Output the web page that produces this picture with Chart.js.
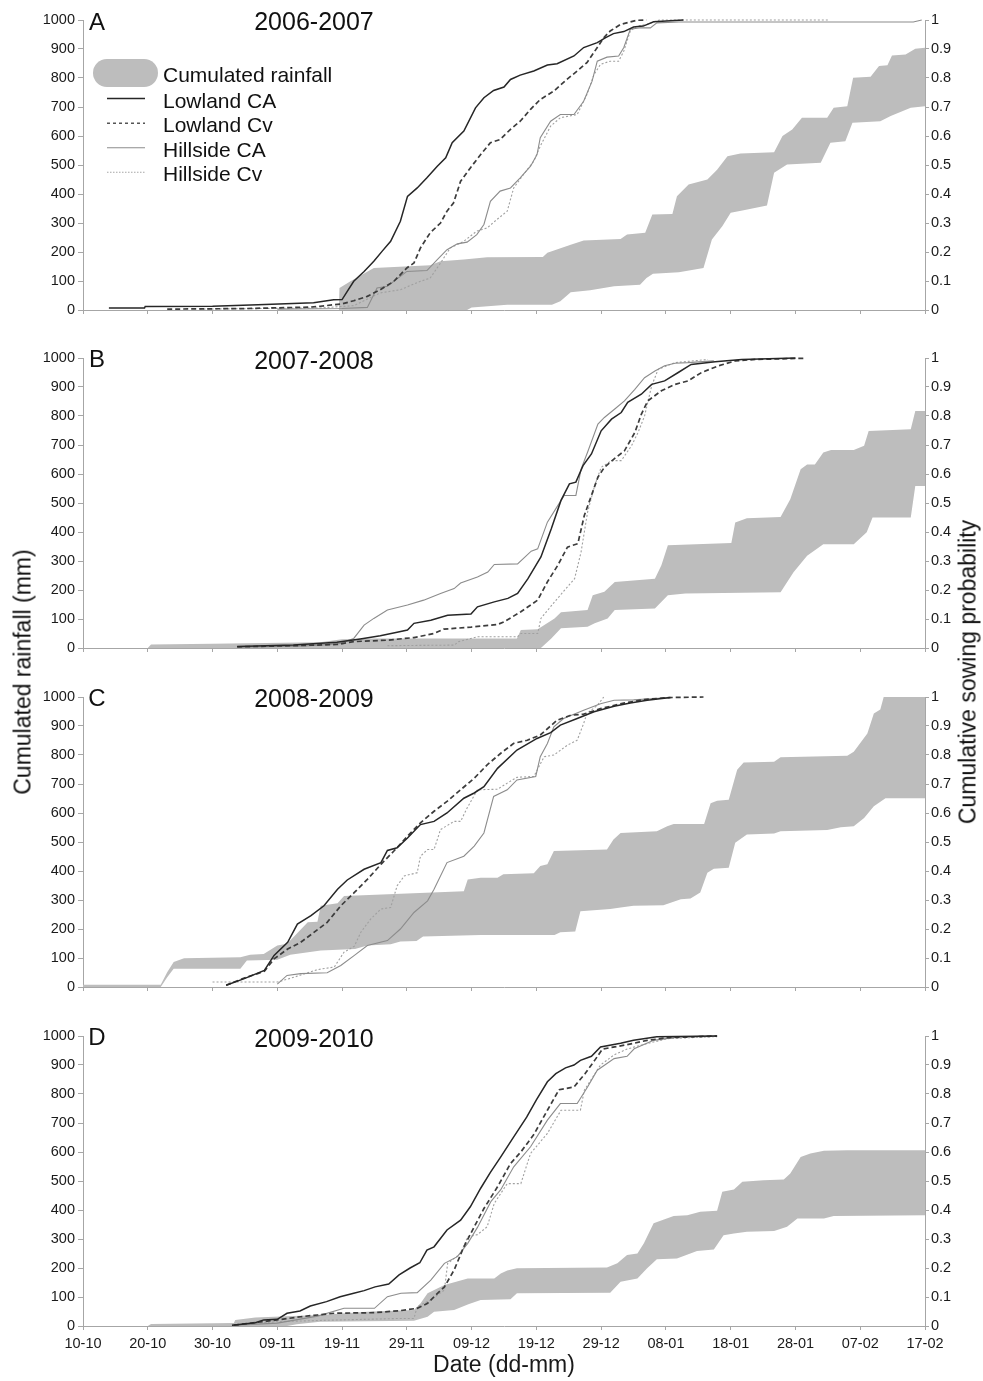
<!DOCTYPE html>
<html>
<head>
<meta charset="utf-8">
<script src="https://cdn.jsdelivr.net/npm/chart.js@4.4.1/dist/chart.umd.min.js"></script>
<style>
  body { margin: 0; background: #fff; }
  #wrap { position: relative; width: 983px; height: 1381px; overflow: hidden;
          font-family: 'Liberation Sans', Arial, sans-serif; color: #111; }
  canvas { position: absolute; left: 0; }
  .c { position: absolute; transform: translate(-50%, -50%); line-height: 1; white-space: nowrap; }
  .lg { position: absolute; left: 163px; transform: translateY(-50%); line-height: 1; font-size: 21px; white-space: nowrap; }
  .rot { position: absolute; transform: translate(-50%, -50%) rotate(-90deg); line-height: 1; font-size: 23px; white-space: nowrap; }
</style>
</head>
<body>
<div id="wrap">
  <canvas id="cA" width="983" height="338" style="top:0px"></canvas>
  <canvas id="cB" width="983" height="338" style="top:338px"></canvas>
  <canvas id="cC" width="983" height="338" style="top:677px"></canvas>
  <canvas id="cD" width="983" height="365" style="top:1016px"></canvas>

  <div class="c" style="left:97px;top:21.5px;font-size:24px">A</div>
  <div class="c" style="left:314px;top:21px;font-size:25px">2006-2007</div>
  <div class="c" style="left:97px;top:359px;font-size:24px">B</div>
  <div class="c" style="left:314px;top:359.5px;font-size:25px">2007-2008</div>
  <div class="c" style="left:97px;top:697.5px;font-size:24px">C</div>
  <div class="c" style="left:314px;top:698px;font-size:25px">2008-2009</div>
  <div class="c" style="left:97px;top:1037px;font-size:24px">D</div>
  <div class="c" style="left:314px;top:1037.5px;font-size:25px">2009-2010</div>

  <div style="position:absolute;left:93px;top:59px;width:65px;height:28px;border-radius:14px;background:#bdbdbd"></div>
  <svg style="position:absolute;left:0;top:0" width="983" height="200">
    <line x1="107" x2="145" y1="98.5" y2="98.5" stroke="#262626" stroke-width="1.5"/>
    <line x1="107" x2="145" y1="123.3" y2="123.3" stroke="#555" stroke-width="1.6" stroke-dasharray="3,3"/>
    <line x1="107" x2="145" y1="147.7" y2="147.7" stroke="#8c8c8c" stroke-width="1.1"/>
    <line x1="107" x2="145" y1="172.3" y2="172.3" stroke="#a6a6a6" stroke-width="1.1" stroke-dasharray="1.5,1.5"/>
  </svg>
  <div class="lg" style="top:74.2px">Cumulated rainfall</div>
  <div class="lg" style="top:99.7px">Lowland CA</div>
  <div class="lg" style="top:123.7px">Lowland Cv</div>
  <div class="lg" style="top:148.8px">Hillside CA</div>
  <div class="lg" style="top:173.3px">Hillside Cv</div>

  <div class="rot" style="left:23px;top:672px">Cumulated rainfall (mm)</div>
  <div class="rot" style="left:967.5px;top:672px">Cumulative sowing probability</div>
</div>

<script>
// ---- tick labels (x: days since 10-10) ----
const xTickLabels = ['10-10','20-10','30-10','09-11','19-11','29-11','09-12','19-12','29-12','08-01','18-01','28-01','07-02','17-02'];

// ---- Panel A (2006-2007): [day, cumulative sowing probability] ----
const A_lowlandCA = [[4,0.007],[9.5,0.007],[9.6,0.012],[20,0.013],[27,0.018],[35.6,0.025],[38.7,0.035],[40,0.036],[40.8,0.064],[41.8,0.099],[43.4,0.133],[44.9,0.168],[46.2,0.203],[47.5,0.237],[49.0,0.306],[50.1,0.392],[51.6,0.421],[53.1,0.456],[54.7,0.496],[56.0,0.525],[57.0,0.577],[58.8,0.617],[60.6,0.697],[61.9,0.732],[63.4,0.757],[65.0,0.769],[66.0,0.795],[67.5,0.81],[69.6,0.824],[71.7,0.845],[73.2,0.849],[75.8,0.876],[77.3,0.905],[79.4,0.922],[80.7,0.939],[81.9,0.953],[83.5,0.96],[85.0,0.976],[86.5,0.979],[88.1,0.994],[92.7,1.0]];
const A_lowlandCv = [[13,0.003],[25,0.005],[35,0.01],[36.6,0.013],[40,0.021],[41.8,0.032],[43.9,0.047],[45.9,0.07],[48.0,0.099],[50.0,0.145],[51.1,0.162],[52.1,0.214],[53.6,0.266],[55.2,0.30],[56.2,0.341],[57.2,0.369],[58.3,0.444],[59.8,0.49],[61.4,0.536],[62.9,0.577],[64.4,0.588],[66.0,0.623],[67.5,0.651],[69.1,0.692],[70.6,0.726],[72.7,0.755],[74.7,0.795],[76.3,0.824],[77.8,0.853],[79.4,0.905],[80.4,0.939],[81.4,0.962],[83.0,0.985],[85.5,0.999],[87,1.0]];
const A_hillsideCA = [[30,0.003],[40,0.005],[43.9,0.009],[45.4,0.076],[47.0,0.082],[50.0,0.133],[53.1,0.136],[54.7,0.174],[56.2,0.208],[57.8,0.228],[59.3,0.234],[60.8,0.26],[61.9,0.295],[62.9,0.375],[64.4,0.41],[66.0,0.421],[67.5,0.456],[69.1,0.496],[70.1,0.536],[70.6,0.594],[72.2,0.651],[73.7,0.674],[75.8,0.674],[77.3,0.72],[78.6,0.789],[79.4,0.858],[80.9,0.872],[82.7,0.876],[83.5,0.905],[84.5,0.968],[86.1,0.973],[87.6,0.973],[88.6,0.99],[92,0.993],[128.2,0.993],[129.5,1.0]];
const A_hillsideCv = [[18,0.003],[36.6,0.007],[41.8,0.015],[45.9,0.059],[49.0,0.07],[52.1,0.099],[53.6,0.11],[55.2,0.162],[56.7,0.214],[58.8,0.237],[60.8,0.272],[62.4,0.283],[63.9,0.312],[65.5,0.341],[66.5,0.421],[68.0,0.467],[69.6,0.513],[70.6,0.565],[72.2,0.634],[73.7,0.663],[76.3,0.674],[77.8,0.743],[78.9,0.812],[79.9,0.847],[81.4,0.858],[82.7,0.858],[83.5,0.893],[84.5,0.962],[85.5,0.979],[87.1,0.985],[89,1.0],[115,1.0]];
// cumulated rainfall band, mm
const A_rainUpper = [[39.5,0],[39.6,76],[41.3,99],[44.9,145],[53.6,154],[55.2,168],[58.8,174],[62.4,182],[71,183],[71.7,197],[75.3,225],[77.3,240],[83,245],[84,260],[86.8,266],[87.9,329],[91,331],[91.7,392],[93.5,433],[96.4,450],[97.9,484],[99.5,530],[101.5,540],[106.7,544],[108,600],[109.5,622],[111,663],[114.9,663],[115.9,697],[118,703],[118.9,801],[121.6,804],[122.9,841],[124.2,844],[124.9,878],[127,881],[128.5,901],[130,904]];
const A_rainLower = [[39.5,0],[59.3,0],[60,9],[65.5,18],[72.4,18],[73.7,30],[75.3,61],[78.3,68],[82,82],[86,87],[87,110],[88,125],[92,130],[95.8,145],[97.1,243],[98.7,289],[100,335],[102,344],[105.6,360],[106.7,473],[108.7,502],[113.9,508],[115.4,577],[117.7,582],[118.8,646],[123.1,651],[124.7,669],[127.8,697],[130,703]];

// ---- Panel B (2007-2008) ----
const B_lowlandCA = [[23.8,0.005],[32.5,0.01],[39.2,0.02],[42.8,0.031],[45.9,0.042],[48.5,0.054],[50.1,0.062],[51.1,0.085],[53.7,0.096],[56.3,0.113],[59.9,0.117],[60.9,0.142],[63.5,0.159],[65.6,0.171],[67.1,0.188],[68.7,0.239],[70.7,0.314],[72.3,0.411],[73.8,0.509],[75.1,0.566],[76.1,0.572],[77.2,0.629],[78.5,0.669],[80.0,0.749],[81.6,0.789],[83.1,0.812],[84.1,0.847],[86.2,0.875],[87.8,0.909],[89.8,0.921],[91.9,0.95],[93.9,0.978],[97.6,0.987],[101.7,0.995],[110,1.0]];
const B_lowlandCv = [[23.8,0.004],[32.5,0.008],[39.2,0.012],[41.8,0.022],[47.0,0.027],[51.1,0.036],[54.2,0.05],[55.7,0.065],[59.9,0.072],[64.0,0.081],[65.0,0.09],[67.6,0.125],[70.2,0.165],[71.7,0.228],[73.3,0.285],[74.8,0.348],[76.4,0.36],[77.4,0.457],[78.5,0.526],[79.5,0.589],[80.5,0.623],[82.1,0.654],[83.6,0.68],[85.2,0.743],[86.2,0.806],[87.2,0.852],[89.3,0.887],[91.4,0.909],[93.4,0.921],[95.5,0.95],[98.1,0.973],[100.7,0.99],[103.8,0.995],[111.5,0.999]];
const B_hillsideCA = [[24,0.003],[33,0.006],[36.6,0.01],[39.7,0.016],[41.8,0.033],[43.4,0.079],[44.9,0.102],[47.0,0.131],[50.1,0.148],[52.6,0.165],[55.2,0.188],[57.3,0.205],[58.3,0.224],[60.9,0.245],[62.5,0.262],[63.5,0.288],[67.1,0.29],[69.2,0.334],[70.2,0.342],[71.7,0.434],[73.3,0.491],[74.3,0.526],[76.1,0.526],[76.9,0.617],[77.9,0.675],[79.5,0.772],[80.5,0.795],[82.1,0.824],[83.6,0.852],[85.2,0.892],[86.7,0.932],[88.3,0.955],[89.8,0.973],[91.4,0.982],[93.4,0.984],[97.4,0.99]];
const B_hillsideCv = [[47.0,0.008],[57.3,0.01],[58,0.022],[60.9,0.039],[67.1,0.039],[67.6,0.05],[70.2,0.05],[70.7,0.102],[72.8,0.159],[75.9,0.239],[76.9,0.331],[77.9,0.468],[79.0,0.56],[80.0,0.623],[81.6,0.646],[83.1,0.646],[84.7,0.698],[85.7,0.743],[86.7,0.8],[87.8,0.904],[88.8,0.961],[91.4,0.984],[96.5,0.995]];
const B_rainUpper = [[10,0],[10.5,12],[20,15],[36.6,20],[40,30],[45,33],[67.0,33],[67.6,62],[70.2,65],[72.8,102],[73.8,123],[77.9,131],[78.7,182],[80.5,194],[82.1,228],[88.3,239],[89.3,285],[90.3,354],[100.1,362],[100.7,433],[102.5,447],[107.7,452],[109.2,513],[110.8,616],[111.8,633],[113,633],[114.3,674],[115.5,683],[119,683],[120.6,697],[121.3,748],[127.8,754],[128.5,817],[130,817]];
const B_rainLower = [[10,0],[70.7,0],[72.3,33],[73.8,68],[77.9,73],[79,85],[81,102],[82.1,131],[88.3,136],[90.3,182],[93,188],[107.7,192],[109.7,261],[111.8,318],[114.3,358],[119,358],[121,399],[121.9,450],[127.8,450],[128.5,559],[130,559]];

// ---- Panel C (2008-2009) ----
const C_lowlandCA = [[22.1,0.006],[24.9,0.029],[28.0,0.057],[29.5,0.109],[31.6,0.154],[33.1,0.217],[35.2,0.246],[37.2,0.28],[39.3,0.337],[40.8,0.369],[43.4,0.406],[46.0,0.429],[47.0,0.471],[48.5,0.48],[50.1,0.514],[52.1,0.56],[54.2,0.571],[56.2,0.6],[58.8,0.651],[60.4,0.669],[61.9,0.691],[64.0,0.754],[67.0,0.817],[70.1,0.857],[72.2,0.877],[73.7,0.903],[76.3,0.926],[78.9,0.949],[82.0,0.968],[84.5,0.979],[87.1,0.989],[90.7,0.998]];
const C_lowlandCv = [[22.1,0.006],[24.9,0.031],[28.0,0.054],[29.5,0.097],[31.6,0.131],[33.6,0.154],[35.7,0.189],[37.7,0.223],[39.8,0.28],[41.9,0.326],[43.9,0.371],[46.0,0.423],[48.0,0.469],[50.1,0.52],[52.1,0.566],[54.2,0.606],[56.2,0.64],[58.3,0.68],[60.4,0.72],[62.4,0.766],[64.5,0.806],[66.5,0.84],[68.6,0.851],[70.6,0.869],[73.2,0.92],[75.3,0.937],[77.3,0.941],[79.9,0.96],[83.5,0.979],[86.6,0.991],[90.2,0.998],[95.8,1.0]];
const C_hillsideCA = [[30.0,0.01],[31.5,0.04],[33.6,0.046],[37.7,0.049],[39.8,0.074],[41.9,0.109],[43.9,0.143],[47.0,0.16],[49.0,0.2],[51.1,0.257],[53.2,0.297],[54.2,0.337],[56.2,0.429],[58.8,0.451],[60.4,0.486],[61.9,0.531],[63.4,0.657],[65.5,0.68],[67.0,0.714],[69.9,0.726],[70.6,0.794],[71.7,0.84],[72.7,0.897],[74.2,0.926],[77.3,0.954],[79.9,0.977],[82.0,0.989],[85.0,0.99],[87.6,0.994],[90.7,0.998]];
const C_hillsideCv = [[20,0.017],[30,0.017],[32.6,0.034],[36.2,0.06],[38.8,0.069],[40.3,0.12],[41.9,0.141],[42.9,0.189],[44.4,0.234],[46.0,0.269],[47.5,0.274],[48.5,0.349],[49.6,0.383],[51.6,0.394],[52.1,0.451],[53.2,0.474],[54.2,0.474],[55.2,0.543],[57.3,0.571],[58.3,0.571],[59.3,0.617],[60.9,0.68],[64.0,0.682],[65.5,0.703],[67.0,0.723],[69.6,0.726],[71.2,0.794],[72.7,0.8],[74.8,0.834],[76.3,0.851],[77.3,0.909],[77.8,0.943],[79.4,0.971],[80.4,1.0]];
const C_rainUpper = [[0,8],[12,8],[13,51],[14,86],[15.6,99],[24.3,103],[25.8,111],[27.9,114],[30,143],[31.5,149],[34.7,223],[36.2,225],[36.7,280],[39.3,289],[40.3,314],[58.8,330],[59.4,371],[61.4,377],[64.0,377],[64.9,389],[69.6,392],[70.6,417],[71.7,423],[72.7,469],[80.9,474],[81.9,509],[83,531],[88.6,537],[90.2,554],[91.2,562],[95.9,562],[96.9,634],[97.9,642],[99.7,646],[101,749],[102,774],[106.7,777],[107.7,792],[118,797],[119,811],[121.1,874],[122.1,943],[123.1,957],[123.9,1023],[125.7,1032],[130,1032]];
const C_rainLower = [[0,0],[12,0],[13,34],[14,63],[24.3,63],[25.3,91],[30,94],[32,111],[36.7,126],[42,131],[43.9,143],[47.5,147],[49,157],[51.5,159],[52.5,174],[61.4,179],[72.8,179],[73.7,189],[76,191],[76.8,261],[81.4,269],[83,274],[85,280],[89.6,282],[92.3,303],[93.8,305],[95.3,326],[96.4,394],[97.4,408],[99.7,411],[100.7,497],[102.5,526],[106.7,529],[107.7,537],[114.9,541],[117,551],[119,554],[120.6,583],[122.1,623],[123.9,651],[130,651]];

// ---- Panel D (2009-2010) ----
const D_lowlandCA = [[23,0.003],[26.6,0.011],[27.9,0.021],[30,0.023],[31.5,0.044],[33.5,0.052],[35.1,0.069],[37.6,0.084],[39.7,0.101],[41.8,0.113],[43.4,0.122],[45.1,0.135],[47.2,0.145],[48.8,0.176],[50.5,0.2],[52,0.218],[53.1,0.262],[54.2,0.273],[56.2,0.331],[58.3,0.365],[59.8,0.411],[61.4,0.475],[62.9,0.53],[64.4,0.58],[66.5,0.652],[68.5,0.72],[70,0.78],[71.7,0.842],[73,0.87],[74.5,0.89],[75.8,0.9],[76.8,0.916],[78.5,0.93],[79.9,0.962],[83,0.975],[85,0.985],[88.6,0.997],[97.9,1.0]];
const D_lowlandCv = [[23.3,0.003],[30,0.021],[33.6,0.032],[36.2,0.038],[38.8,0.044],[45,0.046],[49,0.053],[51.6,0.061],[53.2,0.078],[54.2,0.101],[55.8,0.135],[57.3,0.193],[58.8,0.273],[60.4,0.342],[61.9,0.405],[64.0,0.48],[66.0,0.56],[67.6,0.6],[69.6,0.66],[71.7,0.744],[73.5,0.815],[75.8,0.824],[77.5,0.87],[79.0,0.916],[80.2,0.955],[84,0.97],[87.1,0.985],[90.2,0.994],[97.9,1.0]];
const D_hillsideCA = [[23,0.002],[30,0.01],[36.2,0.034],[40.3,0.061],[45,0.061],[47,0.101],[49.1,0.113],[51.6,0.115],[53.7,0.158],[55.8,0.216],[57.8,0.239],[59.4,0.285],[60.9,0.34],[63,0.43],[64.5,0.47],[66.5,0.549],[69.1,0.618],[71.7,0.71],[73.7,0.767],[76.3,0.767],[77.9,0.824],[79.4,0.882],[82,0.922],[84,0.93],[85.1,0.956],[88.1,0.985],[92,0.997],[97.9,1.0]];
const D_hillsideCv = [[23,0.002],[30,0.015],[38,0.02],[49,0.026],[51.1,0.026],[51.6,0.067],[53.7,0.09],[55.8,0.124],[56.3,0.216],[58.3,0.25],[59.4,0.308],[60.9,0.315],[62.4,0.342],[63.5,0.423],[65.5,0.491],[67.6,0.491],[69.1,0.595],[71.7,0.664],[73.8,0.744],[76.8,0.744],[77.4,0.813],[79.9,0.9],[82,0.935],[84,0.955],[86.1,0.968],[90.2,0.991],[97.9,0.998]];
const D_rainUpper = [[10,0],[10.5,7],[23.3,10],[23.5,21],[26.6,29],[31.5,34],[36.6,38],[43.9,49],[51.1,55],[52.1,78],[53.2,113],[55.8,141],[59.4,164],[63.5,164],[64.5,181],[65.5,191],[67,199],[80.9,202],[82.5,216],[84,245],[85.6,250],[86.6,285],[88.1,354],[89.7,367],[91.2,379],[93.3,382],[95.3,394],[97.9,397],[98.7,463],[100.5,471],[101.8,497],[105.1,503],[108.2,505],[109.2,526],[110.8,583],[112.3,595],[114.4,604],[118,606],[130,606]];
const D_rainLower = [[10,0],[31.5,0],[33,6],[36.6,15],[51.1,18],[53.2,32],[54.2,49],[57.3,55],[59.5,75],[61.4,90],[66,92],[67,113],[81.4,115],[83,153],[85.6,164],[87.1,199],[88.6,230],[91.7,233],[94.8,259],[97.4,264],[98.9,313],[100.5,319],[102.5,325],[106.7,328],[108.7,342],[110.3,371],[114.4,371],[115.9,379],[130,382]];

// ---- styles ----
const FONT = "'Liberation Sans', Arial, sans-serif";
const TXT = '#1a1a1a';
const AXIS = '#a6a6a6';
const RAIN = '#bdbdbd';
const ST = {
  lowCA:  { color: '#262626', width: 1.5, dash: [] },
  lowCv:  { color: '#3c3c3c', width: 1.7, dash: [5, 3] },
  hillCA: { color: '#8c8c8c', width: 1.1, dash: [] },
  hillCv: { color: '#a0a0a0', width: 1.1, dash: [2, 2] }
};

const panels = [
  { id: 'cA', lowCA: A_lowlandCA, lowCv: A_lowlandCv, hillCA: A_hillsideCA, hillCv: A_hillsideCv, up: A_rainUpper, lo: A_rainLower, bottom: false },
  { id: 'cB', lowCA: B_lowlandCA, lowCv: B_lowlandCv, hillCA: B_hillsideCA, hillCv: B_hillsideCv, up: B_rainUpper, lo: B_rainLower, bottom: false },
  { id: 'cC', lowCA: C_lowlandCA, lowCv: C_lowlandCv, hillCA: C_hillsideCA, hillCv: C_hillsideCv, up: C_rainUpper, lo: C_rainLower, bottom: false },
  { id: 'cD', lowCA: D_lowlandCA, lowCv: D_lowlandCv, hillCA: D_hillsideCA, hillCv: D_hillsideCv, up: D_rainUpper, lo: D_rainLower, bottom: true }
];

const pts = arr => arr.map(([x, y]) => ({ x, y }));
const lineDs = (label, arr, st) => ({
  label, data: pts(arr), yAxisID: 'y2',
  borderColor: st.color, borderWidth: st.width, borderDash: st.dash,
  pointRadius: 0, fill: false, clip: 4
});
const tickFont = { family: FONT, size: 14.5 };

panels.forEach(p => {
  new Chart(document.getElementById(p.id), {
    type: 'line',
    data: {
      datasets: [
        lineDs('Lowland CA', p.lowCA, ST.lowCA),
        lineDs('Lowland Cv', p.lowCv, ST.lowCv),
        lineDs('Hillside CA', p.hillCA, ST.hillCA),
        lineDs('Hillside Cv', p.hillCv, ST.hillCv),
        { label: 'Cumulated rainfall', data: pts(p.up), yAxisID: 'y', borderColor: 'rgba(0,0,0,0)', borderWidth: 1,
          pointRadius: 0, fill: '+1', backgroundColor: RAIN },
        { label: 'rain lower', data: pts(p.lo), yAxisID: 'y', borderColor: 'rgba(0,0,0,0)', borderWidth: 1,
          pointRadius: 0, fill: false }
      ]
    },
    options: {
      responsive: false, animation: false, devicePixelRatio: 1,
      layout: { padding: { top: 20, left: 0, right: 0, bottom: 0 } },
      plugins: { legend: { display: false }, tooltip: { enabled: false } },
      scales: {
        x: {
          type: 'linear', min: 0, max: 130, position: 'bottom',
          afterFit: s => { s.height = p.bottom ? 55 : 28; },
          grid: { display: true, drawOnChartArea: false, drawTicks: true, tickLength: 4, color: AXIS },
          border: { display: true, color: AXIS, width: 1 },
          ticks: { display: p.bottom, stepSize: 10, autoSkip: false, maxRotation: 0, padding: 5, color: TXT, font: tickFont,
                   callback: v => xTickLabels[Math.round(v / 10)] },
          title: { display: p.bottom, text: 'Date (dd-mm)', color: TXT, font: { family: FONT, size: 23 }, padding: { top: 0, bottom: 2 } }
        },
        y: {
          position: 'left', min: 0, max: 1000,
          afterFit: s => { s.width = 83; },
          grid: { display: true, drawOnChartArea: false, drawTicks: true, tickLength: 5, color: AXIS },
          border: { display: true, color: AXIS, width: 1 },
          ticks: { stepSize: 100, padding: 3, color: TXT, font: tickFont, callback: v => String(Math.round(v)) }
        },
        y2: {
          position: 'right', min: 0, max: 1,
          afterFit: s => { s.width = 58; },
          grid: { display: true, drawOnChartArea: false, drawTicks: true, tickLength: 4, color: AXIS },
          border: { display: true, color: AXIS, width: 1 },
          ticks: { stepSize: 0.1, padding: 2, color: TXT, font: tickFont,
                   callback: v => String(Math.round(v * 10) / 10) }
        }
      }
    }
  });
});
</script>
</body>
</html>
